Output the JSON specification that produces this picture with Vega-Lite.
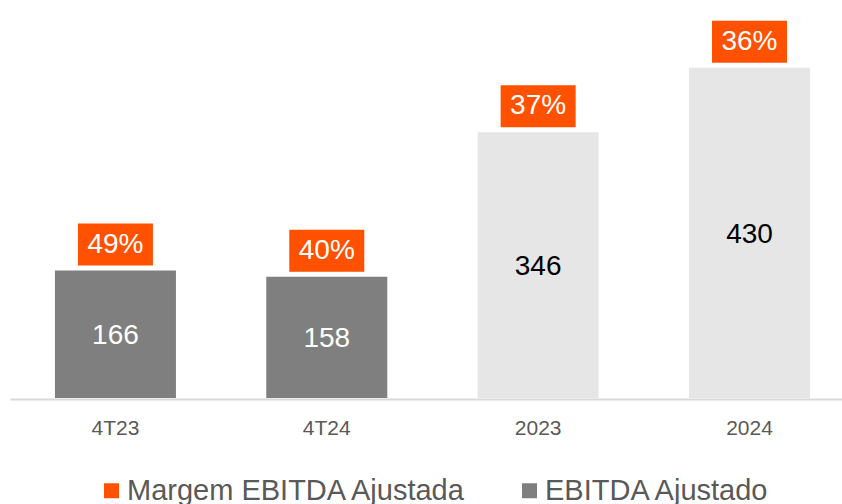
{
  "$schema": "https://vega.github.io/schema/vega-lite/v6.json",
  "width": 832,
  "height": 384,
  "autosize": {"type": "none"},
  "padding": {"left": 10, "top": 14, "right": 0, "bottom": 106},
  "background": "white",
  "config": {
    "view": {"stroke": null},
    "font": "Liberation Sans"
  },
  "data": {
    "values": [
      {"periodo": "4T23", "ebitda": 166, "margem": 0.49, "serie": "EBITDA Ajustado"},
      {"periodo": "4T24", "ebitda": 158, "margem": 0.40, "serie": "EBITDA Ajustado"},
      {"periodo": "2023", "ebitda": 346, "margem": 0.37, "serie": "EBITDA Ajustado anual"},
      {"periodo": "2024", "ebitda": 430, "margem": 0.36, "serie": "EBITDA Ajustado anual"}
    ]
  },
  "encoding": {
    "x": {
      "field": "periodo",
      "type": "nominal",
      "sort": null,
      "scale": {"paddingInner": 0.4274, "paddingOuter": 0.182, "align": 0.584},
      "axis": {
        "title": null,
        "labelAngle": 0,
        "labelFontSize": 21,
        "labelColor": "#595959",
        "labelFont": "Liberation Sans",
        "ticks": false,
        "tickSize": 0,
        "labelPadding": 35,
        "labelBaseline": "alphabetic",
        "domainColor": "#d9d9d9",
        "domainWidth": 2,
        "offset": 1,
        "grid": false
      }
    }
  },
  "layer": [
    {
      "mark": {"type": "bar"},
      "encoding": {
        "y": {"field": "ebitda", "type": "quantitative", "scale": {"domain": [0, 500]}, "axis": null},
        "color": {
          "field": "serie",
          "type": "nominal",
          "scale": {
            "domain": ["Margem EBITDA Ajustada", "EBITDA Ajustado", "EBITDA Ajustado anual"],
            "range": ["#ff5100", "#7f7f7f", "#e6e6e6"]
          },
          "legend": {
            "values": ["Margem EBITDA Ajustada", "EBITDA Ajustado"],
            "title": null,
            "orient": "none",
            "direction": "horizontal",
            "legendX": 87,
            "legendY": 462,
            "symbolType": "square",
            "symbolSize": 225,
            "symbolStrokeWidth": 0,
            "labelFontSize": 29,
            "labelColor": "#595959",
            "labelFont": "Liberation Sans",
            "labelOffset": 1,
            "columnPadding": 47,
            "labelLimit": 500
          }
        }
      }
    },
    {
      "mark": {"type": "tick", "size": 75, "thickness": 42, "yOffset": -26, "opacity": 1},
      "encoding": {
        "y": {"field": "ebitda", "type": "quantitative", "scale": {"domain": [0, 500]}, "axis": null},
        "color": {"datum": "Margem EBITDA Ajustada"}
      }
    },
    {
      "mark": {"type": "text", "dy": -26, "baseline": "middle", "fontSize": 28, "color": "white", "font": "Liberation Sans"},
      "encoding": {
        "y": {"field": "ebitda", "type": "quantitative", "scale": {"domain": [0, 500]}, "axis": null},
        "text": {"field": "margem", "type": "quantitative", "format": ".0%"}
      }
    },
    {
      "mark": {"type": "text", "baseline": "middle", "fontSize": 28, "font": "Liberation Sans", "dy": 2},
      "encoding": {
        "y": {"field": "ebitda", "type": "quantitative", "scale": {"domain": [0, 1000]}, "axis": null},
        "text": {"field": "ebitda", "type": "quantitative"},
        "color": {
          "condition": {"test": "datum.serie === 'EBITDA Ajustado'", "value": "white"},
          "value": "black"
        }
      }
    }
  ],
  "resolve": {"scale": {"y": "independent"}}
}
